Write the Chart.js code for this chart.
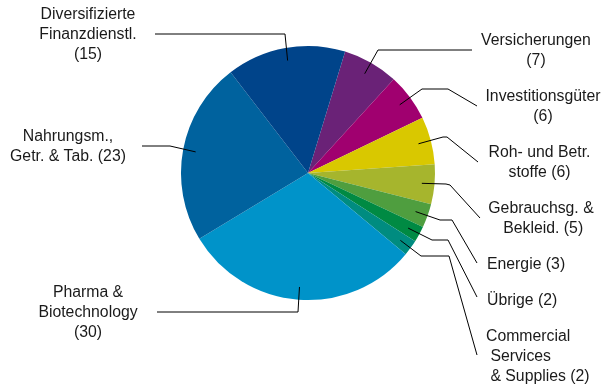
<!DOCTYPE html>
<html lang="de">
<head>
    <meta charset="UTF-8">
    <title>Branchen</title>
    <style>
        html, body { margin: 0; padding: 0; background: #fff; }
        #grafico { width: 602px !important; height: 385px !important; display: block; }
    </style>
</head>
<body>
    <canvas id="grafico" width="602" height="385"></canvas>
    <script src="https://cdn.jsdelivr.net/npm/chart.js"></script>
    <script>
        const ctx = document.getElementById('grafico');

        // Daten (im Uhrzeigersinn, beginnend bei Versicherungen)
        const kategorien = ['Versicherungen', 'Investitionsgüter', 'Roh- und Betr. stoffe', 'Gebrauchsg. & Bekleid.',
            'Energie', 'Übrige', 'Commercial Services & Supplies', 'Pharma & Biotechnology',
            'Nahrungsm., Getr. & Tab.', 'Diversifizierte Finanzdienstl.']
        const werte = [7, 6, 6, 5, 3, 2, 2, 30, 23, 15]
        const beschriftungen = [
            ['Versicherungen', '(7)'],
            ['Investitionsgüter', '(6)'],
            ['Roh- und Betr.', 'stoffe (6)'],
            ['Gebrauchsg. &', ' Bekleid. (5)'],
            ['Energie (3)'],
            ['Übrige (2)'],
            ['Commercial', ' Services', ' & Supplies (2)'],
            ['Pharma &', 'Biotechnology', '(30)'],
            ['Nahrungsm.,', 'Getr. & Tab. (23)'],
            ['Diversifizierte', 'Finanzdienstl.', '(15)']
        ]
        const farben = ['#6a2277', '#a0006f', '#d9c800', '#a6b52d', '#4f9e3f', '#008a43', '#008c80',
            '#0093c9', '#00629e', '#00448a']

        // Layout der Beschriftungen: Textposition + Knickpunkte der Führungslinien
        const layoutLabels = [
            { x: 536, y: 41, align: 'center', pfad: [[472, 50], [378, 50]] },
            { x: 543, y: 97, align: 'center', pfad: [[477, 106], [448, 89], [422, 89]] },
            { x: 539.5, y: 153, align: 'center', pfad: [[478, 162], [447, 137], [443, 137]] },
            { x: 541, y: 208.5, align: 'center', pfad: [[480, 218], [450, 185], [446, 184]] },
            { x: 487, y: 265, align: 'left', pfad: [[477, 263], [452, 220], [440, 220]] },
            { x: 487, y: 301, align: 'left', pfad: [[477, 297], [448, 240], [432, 240]] },
            { x: 486, y: 337, align: 'left', pfad: [[477, 355], [449, 256], [421, 256]] },
            { x: 88, y: 293, align: 'center', pfad: [[157, 312], [298, 312]] },
            { x: 68, y: 137, align: 'center', pfad: [[142, 146], [170, 146]] },
            { x: 88, y: 15, align: 'center', pfad: [[155, 34], [285, 34]] }
        ]

        const beschriftungPlugin = {
            id: 'beschriftung',
            afterDraw(chart) {
                const c = chart.ctx
                const arcs = chart.getDatasetMeta(0).data
                c.save()
                c.strokeStyle = '#000'
                c.lineWidth = 1
                c.fillStyle = '#1a1a1a'
                c.font = '15.8px "Liberation Sans", Arial, sans-serif'
                c.textBaseline = 'middle'
                arcs.forEach((arc, i) => {
                    const p = arc.getProps(['x', 'y', 'startAngle', 'endAngle', 'outerRadius'], true)
                    const mitte = (p.startAngle + p.endAngle) / 2
                    const r = p.outerRadius * 0.9
                    const ende = [p.x + r * Math.cos(mitte), p.y + r * Math.sin(mitte)]
                    const l = layoutLabels[i]
                    c.beginPath()
                    c.moveTo(l.pfad[0][0], l.pfad[0][1])
                    l.pfad.slice(1).forEach(pt => c.lineTo(pt[0], pt[1]))
                    c.lineTo(ende[0], ende[1])
                    c.stroke()
                    c.textAlign = l.align
                    beschriftungen[i].forEach((zeile, k) => {
                        c.fillText(zeile, l.x, l.y + k * 20)
                    })
                })
                c.restore()
            }
        }

        const grafico = new Chart(ctx, {
            type: 'pie',
            data: {
                labels: kategorien,
                datasets: [{
                    data: werte,
                    backgroundColor: farben,
                    borderWidth: 0
                }]
            },
            options: {
                responsive: false,
                animation: false,
                rotation: 17,
                layout: { padding: { left: 181, right: 167, top: 46, bottom: 85 } },
                plugins: {
                    legend: { display: false },
                    tooltip: { enabled: false }
                }
            },
            plugins: [beschriftungPlugin]
        })
    </script>
</body>
</html>
